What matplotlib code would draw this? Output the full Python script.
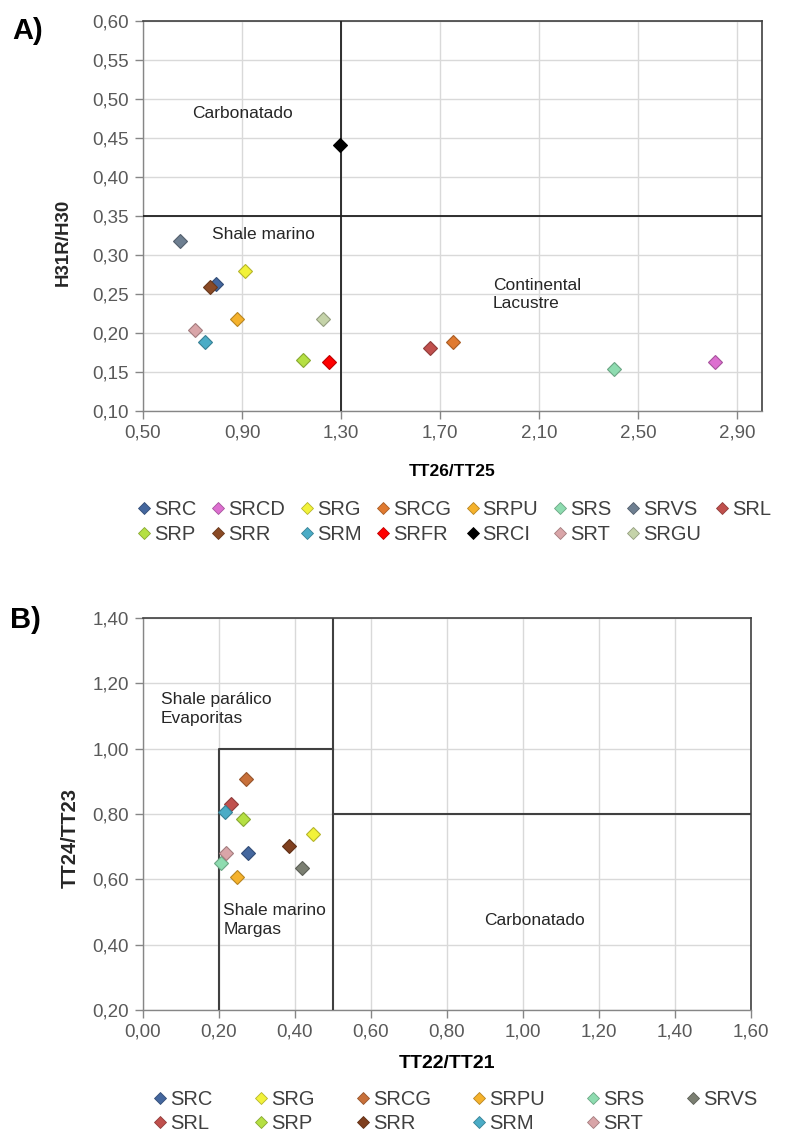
import numpy as np
import matplotlib.pyplot as plt
from matplotlib.lines import Line2D
from matplotlib.ticker import FuncFormatter, MultipleLocator, FixedLocator

plt.rcParams['font.family'] = ['Liberation Sans', 'DejaVu Sans']

# Panel A: TT26/TT25 vs H31R/H30
a_names = ['SRC', 'SRCD', 'SRG', 'SRCG', 'SRPU', 'SRS', 'SRVS', 'SRL',
           'SRP', 'SRR', 'SRM', 'SRFR', 'SRCI', 'SRT', 'SRGU']
a_x = [0.794, 2.812, 0.913, 1.750, 0.881, 2.401, 0.649, 1.659,
       1.148, 0.770, 0.750, 1.253, 1.294, 0.710, 1.227]
a_y = [0.263, 0.162, 0.279, 0.188, 0.218, 0.154, 0.318, 0.181,
       0.165, 0.258, 0.188, 0.162, 0.441, 0.204, 0.218]
a_colors = ['#44679e', '#dd6fd0', '#f2f23a', '#e07a30', '#f5b22c', '#8edcb0',
            '#6e7f91', '#c0504d', '#b5e043', '#8a4a25', '#4bacc6', '#ff0000',
            '#000000', '#d9a5a8', '#c5d3a9']
a_xticks = [0.50, 0.90, 1.30, 1.70, 2.10, 2.50, 2.90]

# Panel B: TT22/TT21 vs TT24/TT23
b_names = ['SRC', 'SRG', 'SRCG', 'SRPU', 'SRS', 'SRVS',
           'SRL', 'SRP', 'SRR', 'SRM', 'SRT']
b_x = [0.278, 0.448, 0.273, 0.248, 0.206, 0.420,
       0.233, 0.264, 0.384, 0.216, 0.218]
b_y = [0.680, 0.739, 0.906, 0.606, 0.651, 0.634,
       0.831, 0.786, 0.703, 0.805, 0.680]
b_colors = ['#44679e', '#f2f23a', '#c8703a', '#f5b22c', '#8edcb0', '#7b7f72',
            '#c0504d', '#b5e043', '#7f3f1e', '#4bacc6', '#d9a5a8']

TICK_COLOR = '#595959'
GRID_COLOR = '#d9d9d9'
comma = FuncFormatter(lambda v, _: f"{v:.2f}".replace('.', ','))


def darker(c, f=0.75):
    r, g, b = plt.matplotlib.colors.to_rgb(c)
    return (r * f, g * f, b * f)


def style_axes(ax):
    ax.grid(True, color=GRID_COLOR, lw=1.0)
    ax.set_axisbelow(True)
    for side in ('left', 'bottom'):
        ax.spines[side].set_color('#868686')
        ax.spines[side].set_linewidth(1.0)
    for side in ('top', 'right'):
        ax.spines[side].set_color('#404040')
        ax.spines[side].set_linewidth(1.2)
    ax.tick_params(direction='out', length=6, width=1, color='#868686',
                   labelcolor=TICK_COLOR, labelsize=13.5, pad=4)
    ax.xaxis.set_major_formatter(comma)
    ax.yaxis.set_major_formatter(comma)


def scatter_series(ax, xs, ys, colors, names):
    handles = []
    for x, y, c, n in zip(xs, ys, colors, names):
        ax.plot([x], [y], ls='none', marker='D', ms=7.5, mfc=c,
                mec=darker(c), mew=0.8, zorder=5)
        handles.append(Line2D([], [], ls='none', marker='D', ms=6, mfc=c,
                              mec=darker(c), mew=0.6, label=n))
    return handles


def row_major(handles, ncol):
    # legend fills columns first; reorder so entries read across rows
    nrow = -(-len(handles) // ncol)
    rows = [handles[i * ncol:(i + 1) * ncol] for i in range(nrow)]
    out = []
    for c in range(ncol):
        for r in rows:
            if c < len(r):
                out.append(r[c])
    return out


fig = plt.figure(figsize=(7.89, 11.38), dpi=100)

# ---- A ----
axA = fig.add_axes([143 / 789, 1 - 410.7 / 1138, 619 / 789, 390 / 1138])
style_axes(axA)
axA.set_xlim(0.5, 3.0)
axA.set_ylim(0.10, 0.60)
axA.xaxis.set_major_locator(FixedLocator(a_xticks))
axA.yaxis.set_major_locator(MultipleLocator(0.05))
axA.axvline(1.3, color='#202020', lw=1.3, zorder=3)
axA.axhline(0.35, color='#202020', lw=1.3, zorder=3)
hA = scatter_series(axA, a_x, a_y, a_colors, a_names)
txt = dict(fontsize=12.5, color='#262626')
axA.text(0.70, 0.481, 'Carbonatado', va='center', **txt)
axA.text(0.777, 0.326, 'Shale marino', va='center', **txt)
axA.text(1.913, 0.249, 'Continental\nLacustre', va='center',
         linespacing=1.3, **txt)
axA.set_xlabel('TT26/TT25', fontsize=12.5, fontweight='bold', labelpad=16)
fig.text(63 / 789, 1 - 242 / 1138, 'H31R/H30', rotation=90, fontsize=13.5,
         fontweight='bold', ha='center', va='center', color='#262626')
fig.text(12 / 789, 1 - 31 / 1138, 'A)', fontsize=21, fontweight='bold',
         va='center')
fig.legend(handles=row_major(hA, 8), loc='center left', ncol=8, frameon=False,
           bbox_to_anchor=(119 / 789, 1 - 522 / 1138), fontsize=14.5,
           handlelength=0.7, handletextpad=0.15, columnspacing=0.72,
           labelspacing=0.32, labelcolor='#404040')

# ---- B ----
axB = fig.add_axes([142.7 / 789, 1 - 1010 / 1138, 608 / 789, 392 / 1138])
style_axes(axB)
axB.set_xlim(0.0, 1.6)
axB.set_ylim(0.2, 1.4)
axB.xaxis.set_major_locator(MultipleLocator(0.2))
axB.yaxis.set_major_locator(MultipleLocator(0.2))
box = dict(color='#404040', lw=1.5, zorder=3)
axB.plot([0.2, 0.2, 0.5], [0.2, 1.0, 1.0], **box)
axB.plot([0.5, 0.5], [0.2, 1.4], **box)
axB.plot([0.5, 1.6], [0.8, 0.8], **box)
hB = scatter_series(axB, b_x, b_y, b_colors, b_names)
axB.text(0.047, 1.122, 'Shale parálico\nEvaporitas', va='center',
         linespacing=1.3, **txt)
axB.text(0.212, 0.476, 'Shale marino\nMargas', va='center',
         linespacing=1.3, **txt)
axB.text(1.032, 0.473, 'Carbonatado', ha='center', va='center', **txt)
axB.set_xlabel('TT22/TT21', fontsize=14, fontweight='bold', labelpad=10)
fig.text(70 / 789, 1 - 838 / 1138, 'TT24/TT23', rotation=90, fontsize=14.5,
         fontweight='bold', ha='center', va='center', color='#262626')
fig.text(10 / 789, 1 - 620 / 1138, 'B)', fontsize=21, fontweight='bold',
         va='center')
fig.legend(handles=row_major(hB, 6), loc='center left', ncol=6, frameon=False,
           bbox_to_anchor=(135 / 789, 1 - 1111.5 / 1138), fontsize=14.5,
           handlelength=0.7, handletextpad=0.15, columnspacing=2.05,
           labelspacing=0.25, labelcolor='#404040')

fig.savefig('out.png', dpi=100)
